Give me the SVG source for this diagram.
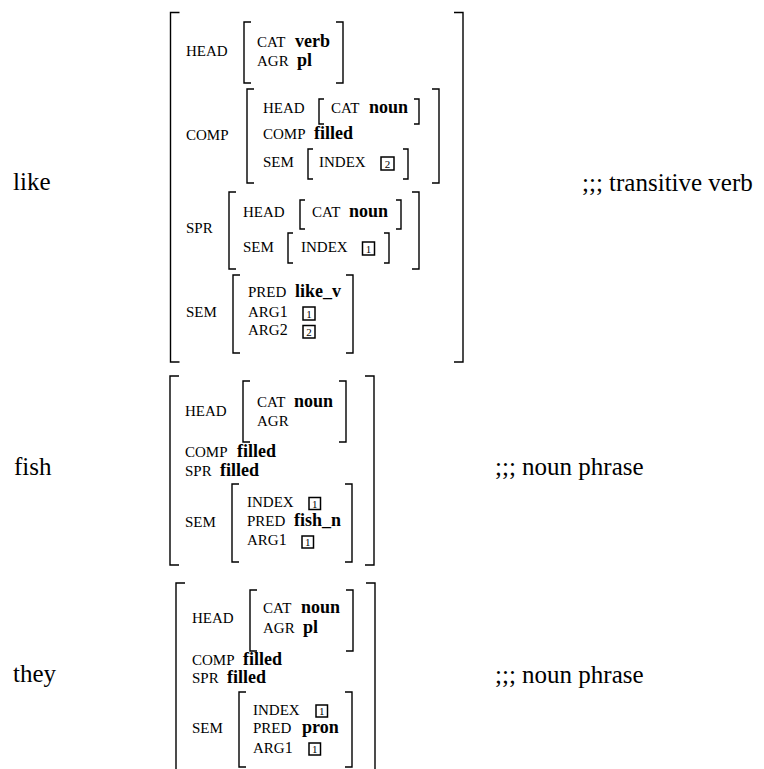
<svg xmlns="http://www.w3.org/2000/svg" width="764" height="769" viewBox="0 0 764 769">
<style>
  .br { fill: none; stroke: #000; stroke-width: 1.4; }
  .a { font-family: "Liberation Serif", "Times New Roman", serif; font-size: 15px; fill: #000; }
  .d { font-size: 16px; }
  .v { font-family: "Liberation Serif", "Times New Roman", serif; font-size: 18px; font-weight: bold; fill: #000; }
  .w { font-family: "Liberation Serif", "Times New Roman", serif; font-size: 25px; fill: #000; }
  .bx { fill: none; stroke: #000; stroke-width: 1.5; }
  .bn { font-family: "Liberation Serif", "Times New Roman", serif; font-size: 11px; fill: #000; text-anchor: middle; }
</style>
<rect width="764" height="769" fill="#fff"/>

<!-- Entry: like -->
<g id="entry-like">
  <text class="w" x="13" y="190">like</text>
  <text class="w" x="582" y="191">;;; transitive verb</text>
  <path class="br" d="M179.5,12.5 H170.5 V362 H179.5"/>
  <path class="br" d="M454,12.5 H463 V362 H454"/>
  <!-- HEAD -->
  <text class="a" x="186" y="56">HEAD</text>
  <path class="br" d="M251,22 H244 V83 H251"/>
  <path class="br" d="M336,22 H343 V83 H336"/>
  <text class="a" x="257" y="47">CAT</text><text class="v" x="295" y="47">verb</text>
  <text class="a" x="257" y="66">AGR</text><text class="v" x="297" y="66">pl</text>
  <!-- COMP -->
  <text class="a" x="186" y="140">COMP</text>
  <path class="br" d="M254,89 H247 V183 H254"/>
  <path class="br" d="M432,89 H439 V183 H432"/>
  <text class="a" x="263" y="113">HEAD</text>
  <path class="br" d="M324,99 H319 V124 H324"/>
  <path class="br" d="M414,99 H419 V124 H414"/>
  <text class="a" x="331" y="113">CAT</text><text class="v" x="369" y="113">noun</text>
  <text class="a" x="263" y="139">COMP</text><text class="v" x="314" y="139">filled</text>
  <text class="a" x="263" y="167">SEM</text>
  <path class="br" d="M313,149 H308 V179 H313"/>
  <path class="br" d="M403,149 H408 V179 H403"/>
  <text class="a" x="319" y="167">INDEX</text>
  <rect class="bx" x="381" y="157" width="13" height="13"/><text class="bn" x="387.5" y="167.5">2</text>
  <!-- SPR -->
  <text class="a" x="186" y="233">SPR</text>
  <path class="br" d="M236,192 H229 V269 H236"/>
  <path class="br" d="M412,192 H419 V269 H412"/>
  <text class="a" x="243" y="217">HEAD</text>
  <path class="br" d="M305,200 H300 V229 H305"/>
  <path class="br" d="M396,200 H401 V229 H396"/>
  <text class="a" x="312" y="217">CAT</text><text class="v" x="349" y="217">noun</text>
  <text class="a" x="243" y="252">SEM</text>
  <path class="br" d="M293,233 H288 V263 H293"/>
  <path class="br" d="M384,233 H389 V263 H384"/>
  <text class="a" x="301" y="252">INDEX</text>
  <rect class="bx" x="362.5" y="242" width="12" height="13"/><text class="bn" x="368.5" y="252.5">1</text>
  <!-- SEM -->
  <text class="a" x="186" y="317">SEM</text>
  <path class="br" d="M240,275 H233 V353 H240"/>
  <path class="br" d="M346,275 H353 V353 H346"/>
  <text class="a" x="248" y="297">PRED</text><text class="v" x="295" y="297">like_v</text>
  <text class="a" x="248" y="317">ARG<tspan class="d">1</tspan></text>
  <rect class="bx" x="303" y="307" width="12" height="13"/><text class="bn" x="309" y="317.5">1</text>
  <text class="a" x="248" y="335">ARG<tspan class="d">2</tspan></text>
  <rect class="bx" x="303" y="325.5" width="12" height="12.5"/><text class="bn" x="309" y="335.5">2</text>
</g>

<!-- Entry: fish -->
<g id="entry-fish">
  <text class="w" x="14" y="475">fish</text>
  <text class="w" x="495" y="475">;;; noun phrase</text>
  <path class="br" d="M179,376 H170 V565 H179"/>
  <path class="br" d="M365,376 H374 V565 H365"/>
  <text class="a" x="185" y="416">HEAD</text>
  <path class="br" d="M250,381 H243 V442 H250"/>
  <path class="br" d="M339,381 H346 V442 H339"/>
  <text class="a" x="257" y="407">CAT</text><text class="v" x="294" y="407">noun</text>
  <text class="a" x="257" y="426">AGR</text>
  <text class="a" x="185" y="457">COMP</text><text class="v" x="237" y="457">filled</text>
  <text class="a" x="185" y="476">SPR</text><text class="v" x="220" y="476">filled</text>
  <text class="a" x="185" y="527">SEM</text>
  <path class="br" d="M239,484 H232 V562 H239"/>
  <path class="br" d="M345,484 H352 V562 H345"/>
  <text class="a" x="247" y="507">INDEX</text>
  <rect class="bx" x="309" y="497.5" width="11.5" height="12"/><text class="bn" x="314.7" y="507.5">1</text>
  <text class="a" x="247" y="526">PRED</text><text class="v" x="294" y="526">fish_n</text>
  <text class="a" x="247" y="545">ARG<tspan class="d">1</tspan></text>
  <rect class="bx" x="302" y="536" width="11.5" height="12"/><text class="bn" x="307.7" y="546">1</text>
</g>

<!-- Entry: they -->
<g id="entry-they">
  <text class="w" x="13" y="682">they</text>
  <text class="w" x="495" y="683">;;; noun phrase</text>
  <path class="br" d="M185,583 H176 V780"/>
  <path class="br" d="M366,583 H375 V780"/>
  <text class="a" x="192" y="623">HEAD</text>
  <path class="br" d="M257,590 H250 V651 H257"/>
  <path class="br" d="M346,590 H353 V651 H346"/>
  <text class="a" x="263" y="613">CAT</text><text class="v" x="301" y="613">noun</text>
  <text class="a" x="263" y="633">AGR</text><text class="v" x="303" y="633">pl</text>
  <text class="a" x="192" y="665">COMP</text><text class="v" x="243" y="665">filled</text>
  <text class="a" x="192" y="683">SPR</text><text class="v" x="227" y="683">filled</text>
  <text class="a" x="192" y="733">SEM</text>
  <path class="br" d="M246,692 H239 V767 H246"/>
  <path class="br" d="M345,692 H352 V767 H345"/>
  <text class="a" x="253" y="715">INDEX</text>
  <rect class="bx" x="316" y="705" width="11.5" height="12"/><text class="bn" x="321.7" y="715">1</text>
  <text class="a" x="253" y="733">PRED</text><text class="v" x="302" y="733">pron</text>
  <text class="a" x="253" y="753">ARG<tspan class="d">1</tspan></text>
  <rect class="bx" x="309" y="743" width="11.5" height="12"/><text class="bn" x="314.7" y="753">1</text>
</g>
</svg>
